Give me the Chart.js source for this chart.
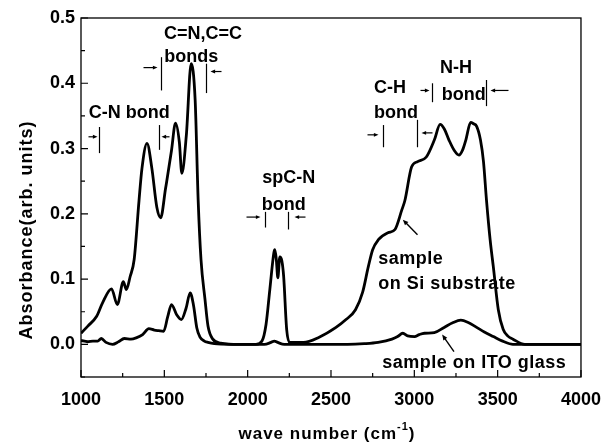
<!DOCTYPE html>
<html>
<head>
<meta charset="utf-8">
<script src="https://cdn.jsdelivr.net/npm/chart.js@4.4.1/dist/chart.umd.min.js"></script>
<style>
  html, body { margin: 0; padding: 0; background: #fff; }
</style>
</head>
<body>
<canvas id="spectrum" width="613" height="442"></canvas>
<script>
// sample on Si substrate
var siWave = [1000, 1041, 1094, 1130, 1183, 1218, 1254, 1272, 1295, 1319, 1348, 1366, 1396, 1425, 1455, 1478,
    1508, 1514, 1543, 1567, 1590, 1605, 1632, 1661, 1685, 1703, 1720, 1744, 1762, 1791, 1838, 1950, 2050,
    2086, 2110, 2133, 2157, 2163, 2172, 2181, 2193, 2205, 2216, 2234, 2252, 2335, 2429, 2530, 2590, 2647,
    2690, 2724, 2750, 2783, 2842, 2884, 2925, 2943, 2984, 3020, 3072, 3120, 3155, 3180, 3208, 3240, 3268,
    3290, 3309, 3338, 3355, 3374, 3397, 3415, 3433, 3455, 3474, 3504, 3533, 3560, 3592, 3663, 3750, 3850, 4000];
var siAbs = [0.017, 0.028, 0.043, 0.064, 0.085, 0.061, 0.096, 0.084, 0.104, 0.13, 0.22, 0.27, 0.308, 0.27, 0.21, 0.194,
    0.24, 0.249, 0.297, 0.339, 0.31, 0.262, 0.32, 0.43, 0.374, 0.221, 0.13, 0.069, 0.028, 0.008, 0.002, 0.0, 0.0,
    0.005, 0.03, 0.084, 0.14, 0.145, 0.13, 0.102, 0.134, 0.128, 0.104, 0.023, 0.003, 0.003, 0.011, 0.026, 0.038, 0.053,
    0.08, 0.119, 0.145, 0.16, 0.171, 0.176, 0.206, 0.22, 0.272, 0.28, 0.287, 0.313, 0.337, 0.33, 0.313, 0.297, 0.29,
    0.298, 0.313, 0.34, 0.338, 0.334, 0.313, 0.28, 0.221, 0.16, 0.119, 0.053, 0.023, 0.013, 0.008, 0.0, 0.0, 0.0, 0.0];

// sample on ITO glass
var itoWave = [1000, 1040, 1072, 1100, 1122, 1150, 1189, 1225, 1260, 1300, 1331, 1370, 1407, 1440, 1466, 1496,
    1520, 1543, 1575, 1602, 1630, 1655, 1675, 1695, 1714, 1740, 1762, 1800, 1900, 2000, 2100, 2140, 2160,
    2180, 2220, 2300, 2400, 2500, 2600, 2700, 2783, 2866, 2900, 2931, 2960, 3001, 3030, 3061, 3120, 3179,
    3230, 3279, 3320, 3374, 3420, 3474, 3530, 3592, 3700, 3800, 3900, 4000];
var itoAbs = [0.006, 0.004, 0.005, 0.005, 0.009, 0.003, 0.0, 0.004, 0.009, 0.008, 0.01, 0.015, 0.024, 0.022, 0.021, 0.02,
    0.042, 0.061, 0.045, 0.038, 0.055, 0.079, 0.06, 0.025, 0.011, 0.005, 0.003, 0.001, 0.0, 0.0, 0.0, 0.003, 0.005,
    0.003, 0.0, 0.0, 0.0, 0.0, 0.0, 0.001, 0.003, 0.008, 0.012, 0.017, 0.013, 0.012, 0.015, 0.017, 0.018, 0.026,
    0.033, 0.037, 0.034, 0.026, 0.019, 0.012, 0.005, 0.0, 0.0, 0.0, 0.0, 0.0];

var xTickValues = [1000, 1500, 2000, 2500, 3000, 3500, 4000];
var xMinorValues = [1250, 1750, 2250, 2750, 3250, 3750];
var yTickValues = [0.0, 0.1, 0.2, 0.3, 0.4, 0.5];
var yMinorValues = [-0.05, 0.05, 0.15, 0.25, 0.35, 0.45];

var xTitle = 'wave number (cm';
var xTitleSup = '-1';
var yTitle = 'Absorbance(arb. units)';

// text labels, anchored in data coordinates
var bondLabels = [
    { text: 'C-N bond', x: 1289, y: 0.354 },
    { text: 'C=N,C=C', x: 1732, y: 0.476 },
    { text: 'bonds', x: 1661, y: 0.44 },
    { text: 'spC-N', x: 2246, y: 0.255 },
    { text: 'bond', x: 2216, y: 0.214 },
    { text: 'C-H', x: 2854, y: 0.392 },
    { text: 'bond', x: 2890, y: 0.354 },
    { text: 'N-H', x: 3250, y: 0.423 },
    { text: 'bond', x: 3297, y: 0.382 }
];
var sampleLabels = [
    { text: 'sample', x: 2783, y: 0.13 },
    { text: 'on Si substrate', x: 2783, y: 0.093 },
    { text: 'sample on ITO glass', x: 2807, y: -0.029 }
];

// range marks: a bar at x from y0 to y1, an arrow on one side pointing at it
var rangeMarks = [
    { x: 1106, y0: 0.293, y1: 0.333, ay: 0.318, side: 'left', gap: 2, len: 9 },
    { x: 1466, y0: 0.298, y1: 0.336, ay: 0.318, side: 'right', gap: 2, len: 8 },
    { x: 1478, y0: 0.389, y1: 0.44, ay: 0.424, side: 'left', gap: 4, len: 14 },
    { x: 1750, y0: 0.385, y1: 0.43, ay: 0.418, side: 'right', gap: 4, len: 11 },
    { x: 2104, y0: 0.179, y1: 0.203, ay: 0.195, side: 'left', gap: 5, len: 14 },
    { x: 2240, y0: 0.176, y1: 0.203, ay: 0.195, side: 'right', gap: 6, len: 11 },
    { x: 2813, y0: 0.302, y1: 0.336, ay: 0.321, side: 'left', gap: 5, len: 11 },
    { x: 3019, y0: 0.302, y1: 0.344, ay: 0.324, side: 'right', gap: 4, len: 11 },
    { x: 3108, y0: 0.371, y1: 0.4, ay: 0.389, side: 'left', gap: 3, len: 9 },
    { x: 3433, y0: 0.365, y1: 0.405, ay: 0.389, side: 'right', gap: 4, len: 18 }
];

// pointers from the sample labels to the curves
var pointers = [
    { x0: 3019, y0: 0.168, x1: 2931, y1: 0.191 },
    { x0: 3238, y0: -0.011, x1: 3167, y1: 0.015 }
];

var FONT = "'Liberation Sans', Arial, Helvetica, sans-serif";

function toPoints(xs, ys) {
    return xs.map(function (x, i) { return { x: x, y: ys[i] }; });
}

function arrow(ctx, x0, y0, x1, y1, head) {
    var ang = Math.atan2(y1 - y0, x1 - x0);
    ctx.beginPath();
    ctx.moveTo(x0, y0);
    ctx.lineTo(x1 - Math.cos(ang) * head * 0.6, y1 - Math.sin(ang) * head * 0.6);
    ctx.stroke();
    ctx.beginPath();
    ctx.moveTo(x1, y1);
    ctx.lineTo(x1 - head * Math.cos(ang - 0.4), y1 - head * Math.sin(ang - 0.4));
    ctx.lineTo(x1 - head * Math.cos(ang + 0.4), y1 - head * Math.sin(ang + 0.4));
    ctx.closePath();
    ctx.fill();
}

function setSpacing(ctx, px) {
    if ('letterSpacing' in ctx) {
        ctx.letterSpacing = px + 'px';
    }
}

var decorations = {
    id: 'decorations',
    afterDatasetsDraw: function (chart) {
        var ctx = chart.ctx;
        var xs = chart.scales.x, ys = chart.scales.y;
        var area = chart.chartArea;

        ctx.save();
        ctx.strokeStyle = '#000';
        ctx.fillStyle = '#000';

        // frame
        ctx.lineWidth = 1.3;
        ctx.strokeRect(area.left, area.top, area.right - area.left, area.bottom - area.top);

        // inward ticks
        ctx.lineWidth = 1.2;
        ctx.beginPath();
        xTickValues.forEach(function (v) {
            var px = xs.getPixelForValue(v);
            ctx.moveTo(px, area.bottom); ctx.lineTo(px, area.bottom - 7);
        });
        xMinorValues.forEach(function (v) {
            var px = xs.getPixelForValue(v);
            ctx.moveTo(px, area.bottom); ctx.lineTo(px, area.bottom - 4);
        });
        yTickValues.forEach(function (v) {
            var py = ys.getPixelForValue(v);
            ctx.moveTo(area.left, py); ctx.lineTo(area.left + 7, py);
        });
        yMinorValues.forEach(function (v) {
            var py = ys.getPixelForValue(v);
            ctx.moveTo(area.left, py); ctx.lineTo(area.left + 4, py);
        });
        ctx.stroke();

        // bond labels
        ctx.font = 'bold 18px ' + FONT;
        ctx.textAlign = 'center';
        ctx.textBaseline = 'middle';
        bondLabels.forEach(function (l) {
            ctx.fillText(l.text, xs.getPixelForValue(l.x), ys.getPixelForValue(l.y));
        });
        ctx.textAlign = 'left';
        setSpacing(ctx, 0.5);
        sampleLabels.forEach(function (l) {
            ctx.fillText(l.text, xs.getPixelForValue(l.x), ys.getPixelForValue(l.y));
        });
        setSpacing(ctx, 0);

        // range marks
        ctx.lineWidth = 1.2;
        rangeMarks.forEach(function (m) {
            var px = Math.round(xs.getPixelForValue(m.x)) + 0.5;
            ctx.beginPath();
            ctx.moveTo(px, ys.getPixelForValue(m.y0));
            ctx.lineTo(px, ys.getPixelForValue(m.y1));
            ctx.stroke();
            var ay = ys.getPixelForValue(m.ay);
            if (m.side === 'left') {
                arrow(ctx, px - m.gap - m.len, ay, px - m.gap, ay, 5);
            } else {
                arrow(ctx, px + m.gap + m.len, ay, px + m.gap, ay, 5);
            }
        });

        // pointers
        ctx.lineWidth = 1.4;
        pointers.forEach(function (p) {
            arrow(ctx, xs.getPixelForValue(p.x0), ys.getPixelForValue(p.y0),
                xs.getPixelForValue(p.x1), ys.getPixelForValue(p.y1), 6);
        });

        // x axis title with superscript
        ctx.textAlign = 'left';
        ctx.textBaseline = 'alphabetic';
        setSpacing(ctx, 1);
        ctx.font = 'bold 17px ' + FONT;
        var w1 = ctx.measureText(xTitle).width;
        var w3 = ctx.measureText(')').width;
        ctx.font = 'bold 11px ' + FONT;
        var w2 = ctx.measureText(xTitleSup).width;
        var cx = (area.left + area.right) / 2 - 4;
        var startX = cx - (w1 + w2 + w3) / 2;
        ctx.font = 'bold 17px ' + FONT;
        ctx.fillText(xTitle, startX, 439);
        ctx.fillText(')', startX + w1 + w2, 439);
        ctx.font = 'bold 11px ' + FONT;
        ctx.fillText(xTitleSup, startX + w1, 430);

        // y axis title
        ctx.translate(27, 230);
        ctx.rotate(-Math.PI / 2);
        ctx.font = 'bold 18px ' + FONT;
        ctx.textAlign = 'center';
        ctx.textBaseline = 'middle';
        setSpacing(ctx, 1);
        ctx.fillText(yTitle, 0, 0);
        setSpacing(ctx, 0);
        ctx.restore();
    }
};

new Chart(document.getElementById('spectrum'), {
    type: 'line',
    data: {
        datasets: [{
            label: 'sample on Si substrate',
            data: toPoints(siWave, siAbs),
            borderColor: '#000',
            borderWidth: 2.8,
            pointRadius: 0,
            fill: false,
            cubicInterpolationMode: 'monotone'
        }, {
            label: 'sample on ITO glass',
            data: toPoints(itoWave, itoAbs),
            borderColor: '#000',
            borderWidth: 2.8,
            pointRadius: 0,
            fill: false,
            cubicInterpolationMode: 'monotone'
        }]
    },
    options: {
        responsive: false,
        animation: false,
        devicePixelRatio: 1,
        layout: { padding: { top: 18, right: 24, left: 0, bottom: 0 } },
        plugins: {
            legend: { display: false },
            tooltip: { enabled: false }
        },
        scales: {
            x: {
                type: 'linear',
                min: 1000,
                max: 4000,
                afterBuildTicks: function (s) {
                    s.ticks = xTickValues.map(function (v) { return { value: v }; });
                },
                afterFit: function (s) { s.height = 65; },
                grid: { drawOnChartArea: false, drawTicks: false },
                border: { display: false },
                ticks: {
                    color: '#000',
                    padding: 12,
                    maxRotation: 0,
                    autoSkip: false,
                    font: { family: FONT, size: 18, weight: 'bold' },
                    callback: function (v) { return String(v); }
                }
            },
            y: {
                type: 'linear',
                min: -0.05,
                max: 0.5,
                afterBuildTicks: function (s) {
                    s.ticks = yTickValues.map(function (v) { return { value: v }; });
                },
                afterFit: function (s) { s.width = 81; },
                grid: { drawOnChartArea: false, drawTicks: false },
                border: { display: false },
                ticks: {
                    color: '#000',
                    padding: 6,
                    autoSkip: false,
                    font: { family: FONT, size: 18, weight: 'bold' },
                    callback: function (v) { return Number(v).toFixed(1); }
                }
            }
        }
    },
    plugins: [decorations]
});
</script>
</body>
</html>
